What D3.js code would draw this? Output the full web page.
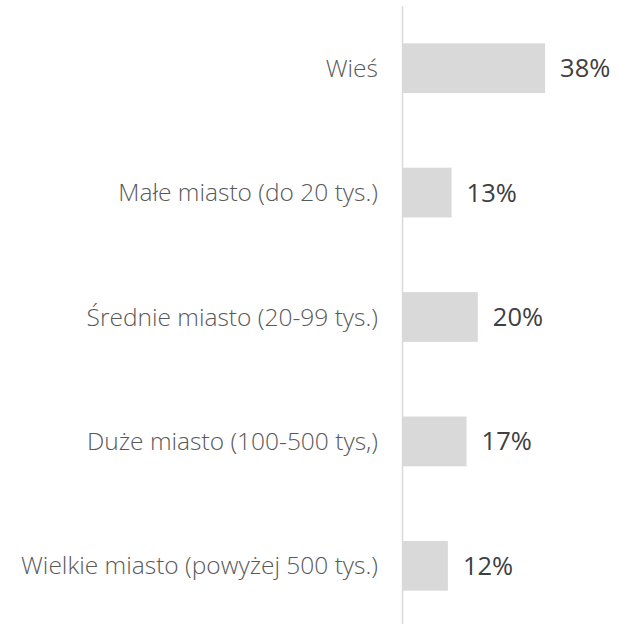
<!DOCTYPE html>
<meta charset="utf-8">
<style>
    body {
        margin: 0;
        background: white;
    }

    svg {
        font-family: "Open Sans", sans-serif;
    }

    .cat-label {
        fill: #595959;
        font-size: 24.5px;
        font-weight: 300;
    }

    .val-label {
        fill: #404040;
        font-size: 25.5px;
    }
</style>
<body>
<script src="https://cdn.jsdelivr.net/npm/d3@7"></script>
<script>
    const width = 618;
    const height = 624;

    // data
    const categories = [
        "Wieś",
        "Małe miasto (do 20 tys.)",
        "Średnie miasto (20-99 tys.)",
        "Duże miasto (100-500 tys,)",
        "Wielkie miasto (powyżej 500 tys.)"
    ];
    const values = [38, 13, 20, 17, 12];

    const rows = categories.map((c, i) => ({ name: c, value: values[i] }));

    const svg = d3.select('body')
        .append('svg')
        .attr('width', width)
        .attr('height', height);

    const x = d3.scaleLinear()
        .domain([0, 100])
        .range([403, 403 + 374]);

    const y = d3.scaleBand()
        .domain(categories)
        .range([6, 628])
        .paddingInner(0.6)
        .paddingOuter(0.3);

    // bars
    svg.selectAll('.bar')
        .data(rows)
        .enter().append('rect')
        .attr('class', 'bar')
        .attr('x', x(0))
        .attr('y', d => y(d.name))
        .attr('width', d => x(d.value) - x(0))
        .attr('height', y.bandwidth())
        .style('fill', '#d9d9d9');

    // vertical axis line
    svg.append('line')
        .attr('x1', x(0) - 0.5)
        .attr('x2', x(0) - 0.5)
        .attr('y1', y.range()[0])
        .attr('y2', y.range()[1])
        .style('stroke', '#d9d9d9')
        .style('stroke-width', 1.5);

    // category labels
    svg.selectAll('.cat-label')
        .data(rows)
        .enter().append('text')
        .attr('class', 'cat-label')
        .attr('x', x(0) - 25)
        .attr('y', d => y(d.name) + y.bandwidth() / 2)
        .attr('dy', '0.35em')
        .style('text-anchor', 'end')
        .text(d => d.name);

    // value labels
    svg.selectAll('.val-label')
        .data(rows)
        .enter().append('text')
        .attr('class', 'val-label')
        .attr('x', d => x(d.value) + 15)
        .attr('y', d => y(d.name) + y.bandwidth() / 2)
        .attr('dy', '0.35em')
        .text(d => d.value + '%');
</script>
</body>
</html>
